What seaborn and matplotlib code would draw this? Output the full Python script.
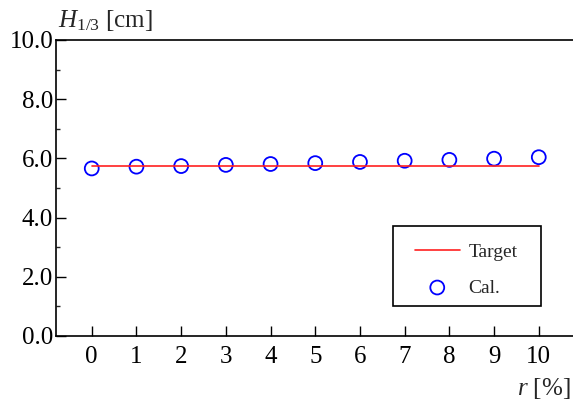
import numpy as np
import pandas as pd
import matplotlib
matplotlib.use("Agg")
import matplotlib.pyplot as plt
from matplotlib.patches import Rectangle
from matplotlib.ticker import MultipleLocator, FormatStrFormatter
import seaborn as sns


r_percent = [0, 1, 2, 3, 4, 5, 6, 7, 8, 9, 10]
h_cal = [5.66, 5.72, 5.74, 5.78, 5.81, 5.84, 5.88, 5.92, 5.95, 5.99, 6.04]
h_target = [5.75] * len(r_percent)

df = pd.DataFrame({'r': r_percent, 'cal': h_cal, 'target': h_target})

sns.set_style('ticks')
plt.rcParams['font.family'] = ['Liberation Serif', 'DejaVu Serif']
plt.rcParams['mathtext.fontset'] = 'custom'
plt.rcParams['mathtext.rm'] = 'Liberation Serif'
plt.rcParams['mathtext.it'] = 'Liberation Serif:italic'

fig = plt.figure(figsize=(5.73, 4.08), dpi=100)
ax = fig.add_axes([0.0977, 0.1765, 0.905, 0.7255])

sns.lineplot(x='r', y='target', data=df, ax=ax, color='#ff2020', linewidth=1.2, label='Target')
sns.scatterplot(x='r', y='cal', data=df, ax=ax, marker='o', s=100,
                facecolor='none', edgecolor='#0000ff', linewidth=1.3, label='Cal.')

ax.set_xlim(-0.8, 10.8)
ax.set_ylim(0, 10)
ax.xaxis.set_major_locator(MultipleLocator(1))
ax.yaxis.set_major_locator(MultipleLocator(2))
ax.yaxis.set_minor_locator(MultipleLocator(1))
ax.yaxis.set_major_formatter(FormatStrFormatter('%.1f'))

ax.tick_params(axis='both', which='major', direction='in', length=7, width=1, labelsize=18, colors='black')
ax.tick_params(axis='y', which='major', pad=2)
ax.tick_params(axis='x', which='major', pad=7)
ax.tick_params(axis='y', which='minor', direction='in', length=3, width=1)

for side in ['left', 'bottom', 'top']:
    ax.spines[side].set_linewidth(1.2)
    ax.spines[side].set_color('black')
ax.spines['right'].set_visible(False)

ax.set_xlabel('')
ax.set_ylabel('')
fig.text(0.101, 0.934, r'$H_{1/3}$ [cm]', fontsize=18, ha='left', va='baseline')
fig.text(0.995, 0.032, r'$r$ [%]', fontsize=18, ha='right', va='baseline')

# legend without its own frame, box drawn around it with uneven padding
leg = ax.legend(loc='lower right', bbox_to_anchor=(0.89, 0.133), fontsize=14,
                frameon=False, handlelength=2.3, labelspacing=0.95, borderpad=0,
                handletextpad=0.45, borderaxespad=0)
leg.set_zorder(6)
fig.canvas.draw()
bb = leg.get_window_extent()
x0, y0 = bb.x0 - 22, bb.y0 - 9
x1, y1 = bb.x1 + 23, bb.y1 + 17
(ax0, ay0), (ax1, ay1) = ax.transAxes.inverted().transform([(x0, y0), (x1, y1)])
ax.add_patch(Rectangle((ax0, ay0), ax1 - ax0, ay1 - ay0, transform=ax.transAxes,
                       facecolor='white', edgecolor='black', linewidth=1.2,
                       zorder=5, clip_on=False))

fig.savefig('out.png', dpi=100)
